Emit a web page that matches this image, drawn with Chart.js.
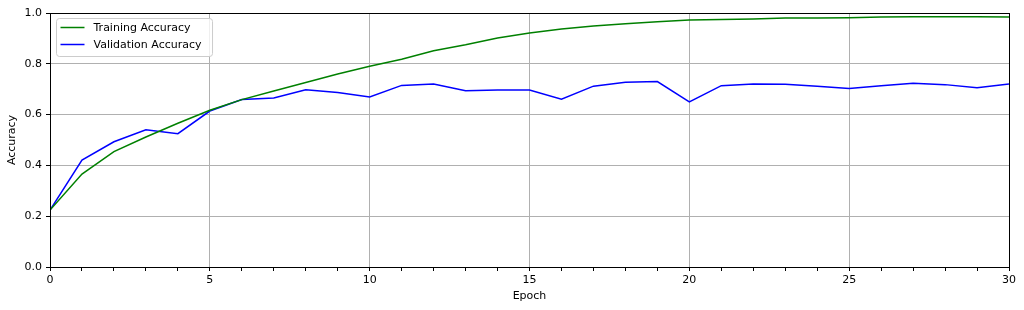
<!DOCTYPE html>
<html>
<head>
<meta charset="utf-8">
<script src="https://cdn.jsdelivr.net/npm/chart.js@4.4.1/dist/chart.umd.min.js"></script>
<style>
  html, body { margin: 0; padding: 0; background: #fff; }
  #wrap { width: 1024px; height: 310px; }
</style>
</head>
<body>
<div id="wrap"><canvas id="accChart" width="1024" height="310"></canvas></div>
<script>
// epochs 0..30
var epochs = [0,1,2,3,4,5,6,7,8,9,10,11,12,13,14,15,16,17,18,19,20,21,22,23,24,25,26,27,28,29,30];
var trainAcc = [0.224,0.366,0.454,0.512,0.566,0.617,0.659,0.693,0.726,0.760,0.790,0.818,0.851,0.875,0.902,0.921,0.937,0.949,0.958,0.966,0.972,0.974,0.976,0.980,0.980,0.981,0.984,0.985,0.985,0.985,0.984];
var valAcc = [0.224,0.421,0.493,0.540,0.525,0.614,0.659,0.665,0.698,0.687,0.669,0.715,0.720,0.694,0.697,0.697,0.661,0.712,0.727,0.730,0.650,0.714,0.720,0.719,0.712,0.703,0.714,0.723,0.718,0.706,0.720];
var yTicks = [0, 0.2, 0.4, 0.6, 0.8, 1.0];

var FONT = 'DejaVu Sans';

function toPoints(ys) {
    return epochs.map(function (e, i) { return { x: e, y: ys[i] }; });
}

// cadre noir autour de la zone de tracé (comme les spines matplotlib)
var boxPlugin = {
    id: 'box',
    afterDatasetsDraw: function (chart) {
        var a = chart.chartArea, ctx = chart.ctx;
        ctx.save();
        ctx.strokeStyle = '#000';
        ctx.lineWidth = 1;
        var l = Math.round(a.left) + 0.5, t = Math.round(a.top) + 0.5;
        var r = Math.round(a.right) + 0.5, b = Math.round(a.bottom) + 0.5;
        ctx.strokeRect(l, t, r - l, b - t);
        ctx.restore();
    }
};

// légende dans le coin haut gauche
var legendPlugin = {
    id: 'innerLegend',
    afterDraw: function (chart) {
        var ctx = chart.ctx, a = chart.chartArea;
        var x0 = a.left + 6.5, y0 = a.top + 5.5;
        ctx.save();
        ctx.font = '11px "' + FONT + '"';
        var w = 0;
        chart.data.datasets.forEach(function (ds) { w = Math.max(w, ctx.measureText(ds.label).width); });
        var boxW = 43 + w + 5, boxH = 38;
        ctx.beginPath();
        ctx.roundRect(x0, y0, boxW, boxH, 3);
        ctx.fillStyle = 'rgba(255,255,255,0.8)';
        ctx.fill();
        ctx.strokeStyle = '#cccccc';
        ctx.lineWidth = 1;
        ctx.stroke();
        chart.data.datasets.forEach(function (ds, i) {
            var y = y0 + 9 + i * 17;
            ctx.beginPath();
            ctx.moveTo(x0 + 4, y);
            ctx.lineTo(x0 + 28, y);
            ctx.strokeStyle = ds.borderColor;
            ctx.lineWidth = 1.5;
            ctx.stroke();
            ctx.fillStyle = '#000';
            ctx.textBaseline = 'middle';
            ctx.fillText(ds.label, x0 + 37, y + 0.5);
        });
        ctx.restore();
    }
};

var chart = new Chart(document.getElementById('accChart'), {
    type: 'line',
    data: {
        datasets: [{
            label: 'Training Accuracy',
            data: toPoints(trainAcc),
            borderColor: '#008000',
            borderWidth: 1.5,
            pointRadius: 0,
            tension: 0,
            fill: false
        }, {
            label: 'Validation Accuracy',
            data: toPoints(valAcc),
            borderColor: '#0000ff',
            borderWidth: 1.5,
            pointRadius: 0,
            tension: 0,
            fill: false
        }]
    },
    options: {
        responsive: false,
        animation: false,
        events: [],
        layout: { padding: { left: 0, top: 13, right: 15, bottom: 0 } },
        plugins: { legend: { display: false }, tooltip: { enabled: false } },
        scales: {
            x: {
                type: 'linear',
                min: 0,
                max: 30,
                afterFit: function (s) { s.height = 43; },
                border: { display: false },
                grid: {
                    color: function (c) { return c.tick && c.tick.value % 5 === 0 ? '#b0b0b0' : 'rgba(0,0,0,0)'; },
                    tickColor: '#000',
                    tickLength: 4,
                    lineWidth: 1
                },
                ticks: {
                    stepSize: 1,
                    autoSkip: false,
                    maxRotation: 0,
                    padding: 3,
                    color: '#000',
                    font: { family: FONT, size: 11 },
                    callback: function (v) { return v % 5 === 0 ? String(v) : ''; }
                },
                title: {
                    display: true,
                    text: 'Epoch',
                    color: '#000',
                    font: { family: FONT, size: 11 },
                    padding: { top: 0, bottom: 7 }
                }
            },
            y: {
                min: yTicks[0],
                max: yTicks[yTicks.length - 1],
                afterFit: function (s) { s.width = 50; },
                afterBuildTicks: function (s) { s.ticks = yTicks.map(function (v) { return { value: v }; }); },
                border: { display: false },
                grid: { color: '#b0b0b0', tickColor: '#000', tickLength: 4, lineWidth: 1 },
                ticks: {
                    padding: 4,
                    color: '#000',
                    font: { family: FONT, size: 11 },
                    callback: function (v) { return Number(v).toFixed(1); }
                },
                title: {
                    display: true,
                    text: 'Accuracy',
                    color: '#000',
                    font: { family: FONT, size: 11 },
                    padding: { top: 6, bottom: 0 }
                }
            }
        }
    },
    plugins: [boxPlugin, legendPlugin]
});
</script>
</body>
</html>
